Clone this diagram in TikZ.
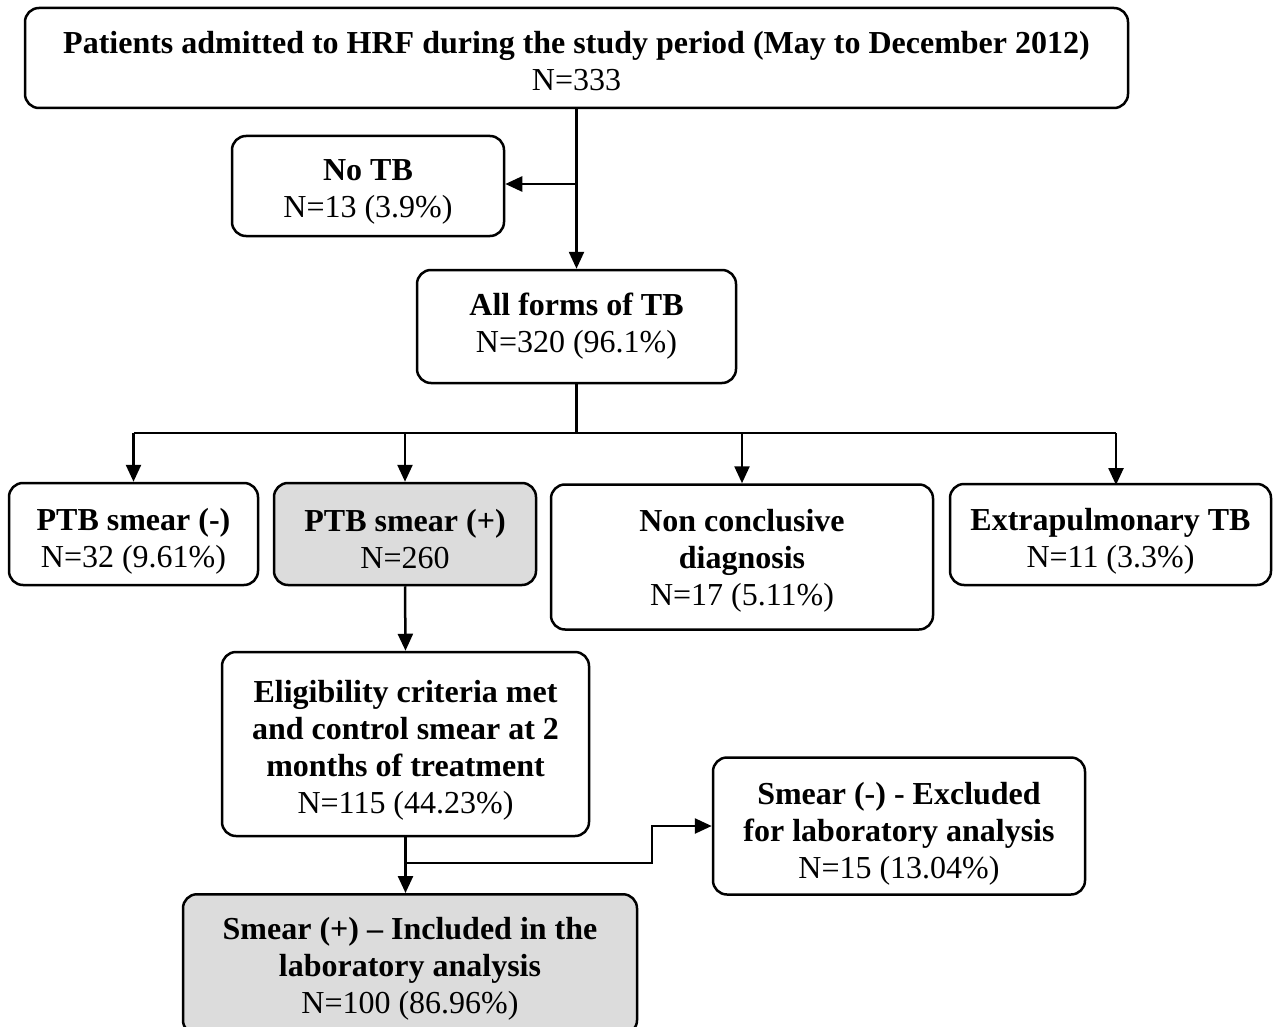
\documentclass[tikz,border=0pt]{standalone}
\usepackage{fontspec}
\setmainfont{Liberation Serif}
\usetikzlibrary{arrows.meta}
\definecolor{boxgray}{HTML}{DCDCDC}
\begin{document}
\begin{tikzpicture}[x=1pt,y=-1pt,
  box/.style={draw, line width=2.5pt, rounded corners=14pt, inner sep=0pt, fill=white},
  greybox/.style={box, fill=boxgray},
  txt/.style={align=center, inner sep=0pt, font=\fontsize{32}{37}\selectfont},
  conn/.style={line width=2.5pt},
  arr/.style={conn, -{Triangle[length=17pt,width=15pt]}}]
\useasboundingbox[fill=white] (0,0) rectangle (1274,1027);

% boxes
\node[box, minimum width=1103pt, minimum height=100pt] (top) at (576.5,58) {};
\node[box, minimum width=272pt, minimum height=100pt] (notb) at (368,186) {};
\node[box, minimum width=319pt, minimum height=113pt] (all) at (576.5,326.5) {};
\node[box, minimum width=249pt, minimum height=102pt] (ptbm) at (133.5,534) {};
\node[greybox, minimum width=262pt, minimum height=102pt] (ptbp) at (405,534) {};
\node[box, minimum width=382pt, minimum height=145pt] (nonc) at (742,557) {};
\node[box, minimum width=321pt, minimum height=101pt] (extra) at (1110.5,534.5) {};
\node[box, minimum width=367pt, minimum height=184pt] (elig) at (405.5,744) {};
\node[box, minimum width=372pt, minimum height=137pt] (excl) at (899,826) {};
\node[greybox, minimum width=454pt, minimum height=140pt, anchor=north] (incl) at (410,893) {};

% texts
\node[txt] (top-t) at ([yshift=-3pt]top.center)
  {\textbf{Patients admitted to HRF during the study period (May to December 2012)}\\ N=333};
\node[txt] (notb-t) at ([yshift=-6pt]notb.center) {\textbf{No TB}\\ N=13 (3.9\%)};
\node[txt] (all-t) at (all.center) {\textbf{All forms of TB}\\ N=320 (96.1\%)};
\node[txt] (ptbm-t) at ([yshift=-7pt]ptbm.center) {\textbf{PTB smear (-)}\\ N=32 (9.61\%)};
\node[txt] (ptbp-t) at ([yshift=-5pt]ptbp.center) {\textbf{PTB smear (+)}\\ N=260};
\node[txt] (nonc-t) at ([yshift=-4pt]nonc.center)
  {\textbf{Non conclusive}\\ \textbf{diagnosis}\\ N=17 (5.11\%)};
\node[txt] (extra-t) at ([yshift=-7pt]extra.center) {\textbf{Extrapulmonary TB}\\ N=11 (3.3\%)};
\node[txt] (elig-t) at ([yshift=-6pt]elig.center)
  {\textbf{Eligibility criteria met}\\ \textbf{and control smear at 2}\\ \textbf{months of treatment}\\ N=115 (44.23\%)};
\node[txt] (excl-t) at ([yshift=-8pt]excl.center)
  {\textbf{Smear (-) - Excluded}\\ \textbf{for laboratory analysis}\\ N=15 (13.04\%)};
\node[txt] (incl-t) at ([yshift=-5pt]incl.center)
  {\textbf{Smear (+) – Included in the}\\ \textbf{laboratory analysis}\\ N=100 (86.96\%)};

% top -> all, branch to No TB
\coordinate (j1) at (576.5,184);
\draw[arr] (top.south) -- (all.north);
\draw[arr] (j1) -- (notb.east |- j1);

% bus
\coordinate (bus) at (576.5,433);
\coordinate (b1) at (133.5,433);
\coordinate (b2) at (405,433);
\coordinate (b3) at (742,433);
\coordinate (b4) at (1116,433);
\coordinate (e4) at (1116,485);
\draw[conn] (all.south) -- (bus);
\draw[conn] (b1) -- (b4);
\draw[arr] (b1) -- (ptbm.north);
\draw[arr] (b2) -- (ptbp.north);
\draw[arr] (b3) -- (nonc.north);
\draw[arr] (b4) -- (e4);

% lower chain
\draw[arr] (ptbp.south) -- (elig.north);
\draw[arr] (elig.south) -- (elig.south |- incl.north);
\coordinate (j2) at (405.5,863);
\draw[arr] (j2) -- (652,863) -- (652,826) -- (excl.west);
\end{tikzpicture}
\end{document}
